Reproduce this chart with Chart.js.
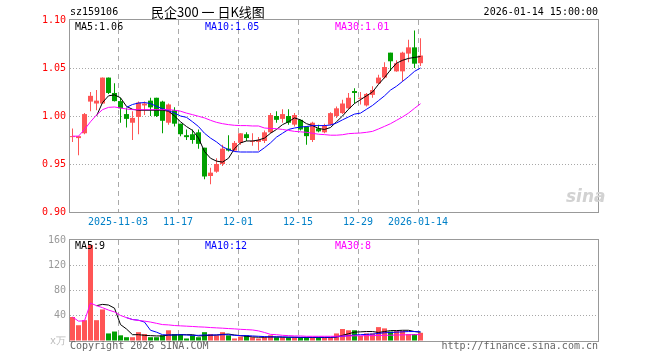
<!DOCTYPE html>
<html>
<head>
<meta charset="utf-8">
<script src="https://cdn.jsdelivr.net/npm/chart.js@4/dist/chart.umd.min.js"></script>
<style>
  html, body { margin: 0; padding: 0; background: #fff; }
  #wrap { position: relative; width: 660px; height: 360px; overflow: hidden; font-family: "DejaVu Sans Mono", monospace; font-size: 10px; }
  canvas { position: absolute; left: 0; top: 0; }
  .t { position: absolute; white-space: nowrap; line-height: 12px; }
</style>
</head>
<body>
<div id="wrap">
  <canvas id="kline" width="660" height="360" style="width:660px;height:360px"></canvas>
  <canvas id="vol" width="660" height="360" style="width:660px;height:360px"></canvas>

  <div class="t" style="left:70px;top:6px;color:#000">sz159106</div>
  <div class="t" style="left:151px;top:4px;font:13px 'Noto Sans CJK SC';line-height:16px;color:#000">民企300 一 日K线图</div>
  <div class="t" style="right:62px;top:6px;color:#000">2026-01-14 15:00:00</div>

  <div class="t" style="left:75px;top:21px;color:#000">MA5:1.06</div>
  <div class="t" style="left:205px;top:21px;color:#00f">MA10:1.05</div>
  <div class="t" style="left:335px;top:21px;color:#f0f">MA30:1.01</div>

  <div class="t" style="left:75px;top:240px;color:#000">MA5:9</div>
  <div class="t" style="left:205px;top:240px;color:#00f">MA10:12</div>
  <div class="t" style="left:335px;top:240px;color:#f0f">MA30:8</div>

  <div class="t" style="left:566px;top:186px;font:italic bold 17px 'DejaVu Sans';line-height:20px;color:#d2d2d2">sina</div>

  <div class="t" style="left:70px;top:340px;color:#666">Copyright 2026 SINA.COM</div>
  <div class="t" style="right:62px;top:340px;color:#666">http://finance.sina.com.cn</div>
</div>

<script>
// 日期（交易日）
const dates = [
  "2025-10-22","2025-10-23","2025-10-24","2025-10-27","2025-10-28","2025-10-29","2025-10-30","2025-10-31",
  "2025-11-03","2025-11-04","2025-11-05","2025-11-06","2025-11-07","2025-11-10","2025-11-11","2025-11-12",
  "2025-11-13","2025-11-14","2025-11-17","2025-11-18","2025-11-19","2025-11-20","2025-11-21","2025-11-24",
  "2025-11-25","2025-11-26","2025-11-27","2025-11-28","2025-12-01","2025-12-02","2025-12-03","2025-12-04",
  "2025-12-05","2025-12-08","2025-12-09","2025-12-10","2025-12-11","2025-12-12","2025-12-15","2025-12-16",
  "2025-12-17","2025-12-18","2025-12-19","2025-12-22","2025-12-23","2025-12-24","2025-12-25","2025-12-26",
  "2025-12-29","2025-12-30","2025-12-31","2026-01-05","2026-01-06","2026-01-07","2026-01-08","2026-01-09",
  "2026-01-12","2026-01-13","2026-01-14"
];

const open = [0.978,0.977,0.982,1.015,1.013,1.013,1.040,1.024,1.0155,1.002,
              0.993,0.999,1.011,1.016,1.019,1.015,0.993,1.006,0.992,0.980,
              0.981,0.983,0.967,0.9375,0.942,0.950,0.966,0.964,0.972,0.981,
              0.973,0.973,0.974,0.983,1.000,0.997,1.000,0.991,0.996,0.989,
              0.975,0.987,0.983,0.991,1.000,1.003,1.008,1.026,1.018,1.011,
              1.022,1.034,1.040,1.066,1.0465,1.0465,1.065,1.0715,1.055];
const close = [0.979,0.979,1.002,1.021,1.016,1.040,1.024,1.0155,1.008,0.997,
               0.998,1.014,1.013,1.009,1.000,0.995,1.012,0.992,0.981,0.978,
               0.975,0.971,0.937,0.941,0.950,0.966,0.964,0.972,0.982,0.977,
               0.974,0.975,0.983,1.001,0.996,1.002,0.993,1.001,0.986,0.979,
               0.993,0.984,0.990,1.003,1.008,1.013,1.019,1.024,1.0185,1.023,
               1.027,1.040,1.051,1.057,1.055,1.066,1.0715,1.0545,1.063];
const high = [0.987,0.979,1.003,1.025,1.027,1.040,1.040,1.034,1.019,1.008,
              1.005,1.015,1.015,1.019,1.019,1.016,1.013,1.009,0.992,0.986,
              0.986,0.986,0.967,0.946,0.956,0.970,0.980,0.974,0.982,0.983,
              0.982,0.978,0.985,1.003,1.005,1.007,1.007,1.003,0.996,0.989,
              0.994,0.991,0.992,1.004,1.010,1.017,1.024,1.029,1.025,1.024,
              1.031,1.043,1.056,1.066,1.058,1.067,1.0795,1.089,1.081];
const low = [0.973,0.959,0.981,1.005,1.006,1.013,1.023,1.015,0.993,0.988,
             0.975,0.981,1.001,1.000,0.999,0.982,0.991,0.989,0.979,0.975,
             0.971,0.966,0.934,0.929,0.941,0.948,0.963,0.963,0.970,0.974,
             0.969,0.964,0.972,0.982,0.993,0.993,0.991,0.989,0.985,0.970,
             0.973,0.983,0.982,0.990,0.998,1.002,1.007,1.013,1.012,1.010,
             1.019,1.033,1.039,1.047,1.046,1.036,1.056,1.050,1.052];

// 均线
const ma5 = [null,null,null,null,1.000,1.014,1.021,1.022,1.019,1.010,
             1.007,1.006,1.006,1.006,1.006,1.006,1.005,1.000,0.994,0.989,
             0.985,0.977,0.963,0.956,0.953,0.952,0.956,0.966,0.972,0.974,
             0.974,0.975,0.977,0.982,0.986,0.991,0.994,0.998,0.996,0.992,
             0.990,0.987,0.986,0.988,0.994,1.000,1.007,1.013,1.017,1.021,
             1.025,1.033,1.040,1.048,1.055,1.058,1.060,1.061,1.062];
const ma10 = [null,null,null,null,null,null,null,null,null,1.009,
              1.012,1.0135,1.014,1.013,1.010,1.0076,1.0056,1.003,1.000,0.9986,
              0.994,0.989,0.982,0.977,0.973,0.968,0.965,0.963,0.9625,0.9625,
              0.9625,0.9625,0.967,0.972,0.978,0.982,0.986,0.9875,0.9885,0.989,
              0.990,0.990,0.990,0.9906,0.9927,0.996,0.999,1.002,1.003,1.007,
              1.011,1.016,1.021,1.027,1.031,1.036,1.041,1.0465,1.050];
const ma30 = [0.979,0.979,0.986,0.994,1.001,1.0066,1.009,1.0094,1.0083,1.0073,
              1.0066,1.0066,1.0066,1.0066,1.0066,1.0066,1.0066,1.006,1.005,1.003,
              1.0014,0.9997,0.998,0.9955,0.9934,0.992,0.991,0.9903,0.990,0.990,
              0.9896,0.9896,0.9875,0.987,0.9868,0.986,0.985,0.984,0.9835,0.983,
              0.982,0.981,0.9806,0.980,0.980,0.9805,0.9816,0.982,0.9823,0.983,
              0.984,0.9865,0.9892,0.992,0.9955,0.999,1.003,1.008,1.0128];

// 成交量（万）
const volume = [38,25,33,152,33,50,12,15,9,6,
                6,14,11,6,6,9,17,11,11,4,
                9,6,14,11,9,14,9,4,7,9,
                6,4,6,9,6,6,6,6,6,6,
                6,6,5,5,12,19,17,17,8,12,
                12,22,20,15,16,16,11,11,13];
const vma5 = [null,null,null,null,56,58,57,52,26,19,
              10,10,9,8.5,8,8,9.5,9.5,10,10,
              10,8,8.5,9,9.5,10.5,11,9.5,8.5,7.5,
              6.5,6,6,6.5,6.5,6,6,6,5.5,5.5,
              5.5,5.5,5.5,5.5,6.5,9,11.5,14,14.5,15,
              15,13.5,15,16.5,16.5,17,17,15,14];
const vma10 = [null,null,null,null,null,null,null,null,null,37,
               34,33,30,17,14,10,9.5,9.5,10,9.5,
               9,9,9.5,9.5,9.5,10,10,9,8.5,8.5,
               8,7.5,7,6.5,6.5,6.5,6,6,6,6,
               6,6,6,6,6.5,7.5,8.5,9.5,10,10.5,
               11,12,13,13.5,14,14.5,15,15,14.5];
const vma30 = [38,31.5,32,60,56,52.8,49,46,40.5,37,
               34,32.5,31.5,30,28,26,25.5,24.5,24,23.5,
               23,22.4,22,21.3,20.8,20.3,19.7,19.2,18.5,18,
               17.5,16,13.5,10.5,10,9,8.5,8,8,7.5,
               7.5,7.5,7.5,7.5,7.5,7.8,8,8.2,8.3,8.4,
               8.5,8.8,9,9.2,9.5,9.7,9.9,10,10.2];

// 刻度
const tickIdx = [8, 18, 28, 38, 48, 58];
const tickLabels = ["2025-11-03", "11-17", "12-01", "12-15", "12-29", "2026-01-14"];
const priceTicks = [0.90, 0.95, 1.00, 1.05, 1.10];
const volTicks = [0, 40, 80, 120, 160];

const RED = "#ff5555";
const GREEN = "#00a000";
const MONO = { family: "DejaVu Sans Mono", size: 10 };

// 每根K线占 6px，绘图区 70..598
const X_MIN = -0.4167;
const X_MAX = X_MIN + 528 / 6;

const upColors = close.map((c, i) => c >= open[i] ? RED : GREEN);

const frame = {
    id: "frame",
    afterDraw(chart) {
        const a = chart.chartArea;
        const ctx = chart.ctx;
        ctx.save();
        ctx.strokeStyle = "#999";
        ctx.lineWidth = 1;
        ctx.strokeRect(a.left - 0.5, a.top - 0.5, a.right - a.left + 1, a.bottom - a.top + 1);
        ctx.restore();
    }
};

function xAxis(showLabels) {
    return {
        type: "linear",
        min: X_MIN,
        max: X_MAX,
        offset: false,
        afterBuildTicks: s => { s.ticks = tickIdx.map(i => ({ value: i + X_MIN })); },
        ticks: {
            display: showLabels,
            autoSkip: false,
            maxRotation: 0,
            padding: 4,
            color: "#0080c8",
            font: MONO,
            callback: v => tickLabels[tickIdx.indexOf(Math.round(v - X_MIN))]
        },
        grid: { color: "#aaa", lineWidth: 1, drawTicks: false, offset: false },
        border: { display: false, dash: [5, 4] },
        afterFit: s => { s.height = showLabels ? 20 : 0; }
    };
}

function line(arr, color) {
    return {
        type: "line",
        data: arr.map((v, i) => ({ x: i, y: v })),
        borderColor: color,
        borderWidth: 1,
        pointRadius: 0,
        tension: 0,
        order: 0
    };
}

// 🟥 K线图
new Chart(document.getElementById("kline"), {
    type: "bar",
    data: {
        datasets: [
            {
                data: dates.map((d, i) => ({ x: i, y: [low[i], high[i]] })),
                backgroundColor: upColors,
                barThickness: 1,
                grouped: false,
                inflateAmount: 0,
                order: 3
            },
            {
                data: dates.map((d, i) => ({ x: i, y: [open[i], close[i]] })),
                backgroundColor: upColors,
                barThickness: 5,
                minBarLength: 1,
                grouped: false,
                inflateAmount: 0,
                order: 2
            },
            line(ma30, "#ff00ff"),
            line(ma10, "#0000ff"),
            line(ma5, "#000000")
        ]
    },
    options: {
        responsive: false,
        animation: false,
        layout: { padding: { left: 0, right: 62, top: 20, bottom: 128 } },
        plugins: { legend: { display: false }, tooltip: { enabled: false } },
        scales: {
            x: xAxis(true),
            y: {
                min: 0.90,
                max: 1.10,
                afterBuildTicks: s => { s.ticks = priceTicks.map(v => ({ value: v })); },
                ticks: { color: "#ff0000", padding: 4, font: MONO, callback: v => Number(v).toFixed(2) },
                grid: {
                    color: ctx => (ctx.tick && ctx.tick.value > 0.91 && ctx.tick.value < 1.09) ? "#a8a8a8" : "rgba(0,0,0,0)",
                    drawTicks: false
                },
                border: { display: false, dash: [1, 2] },
                afterFit: s => { s.width = 70; }
            }
        }
    },
    plugins: [frame]
});

// 🟦 成交量
new Chart(document.getElementById("vol"), {
    type: "bar",
    data: {
        datasets: [
            {
                data: volume.map((v, i) => ({ x: i, y: v })),
                backgroundColor: upColors,
                barThickness: 5,
                grouped: false,
                inflateAmount: 0,
                order: 2
            },
            line(vma30, "#ff00ff"),
            line(vma10, "#0000ff"),
            line(vma5, "#000000")
        ]
    },
    options: {
        responsive: false,
        animation: false,
        layout: { padding: { left: 0, right: 62, top: 240, bottom: 19 } },
        plugins: { legend: { display: false }, tooltip: { enabled: false } },
        scales: {
            x: xAxis(false),
            y: {
                min: 0,
                max: 160,
                afterBuildTicks: s => { s.ticks = volTicks.map(v => ({ value: v })); },
                ticks: {
                    color: ctx => ctx.tick && ctx.tick.value === 0 ? "#bbb" : "#999",
                    padding: 4,
                    font: MONO,
                    callback: v => v === 0 ? "x万" : String(v)
                },
                grid: {
                    color: ctx => (ctx.tick && ctx.tick.value > 0 && ctx.tick.value < 160) ? "#a8a8a8" : "rgba(0,0,0,0)",
                    drawTicks: false
                },
                border: { display: false, dash: [1, 2] },
                afterFit: s => { s.width = 70; }
            }
        }
    },
    plugins: [frame]
});
</script>
</body>
</html>
